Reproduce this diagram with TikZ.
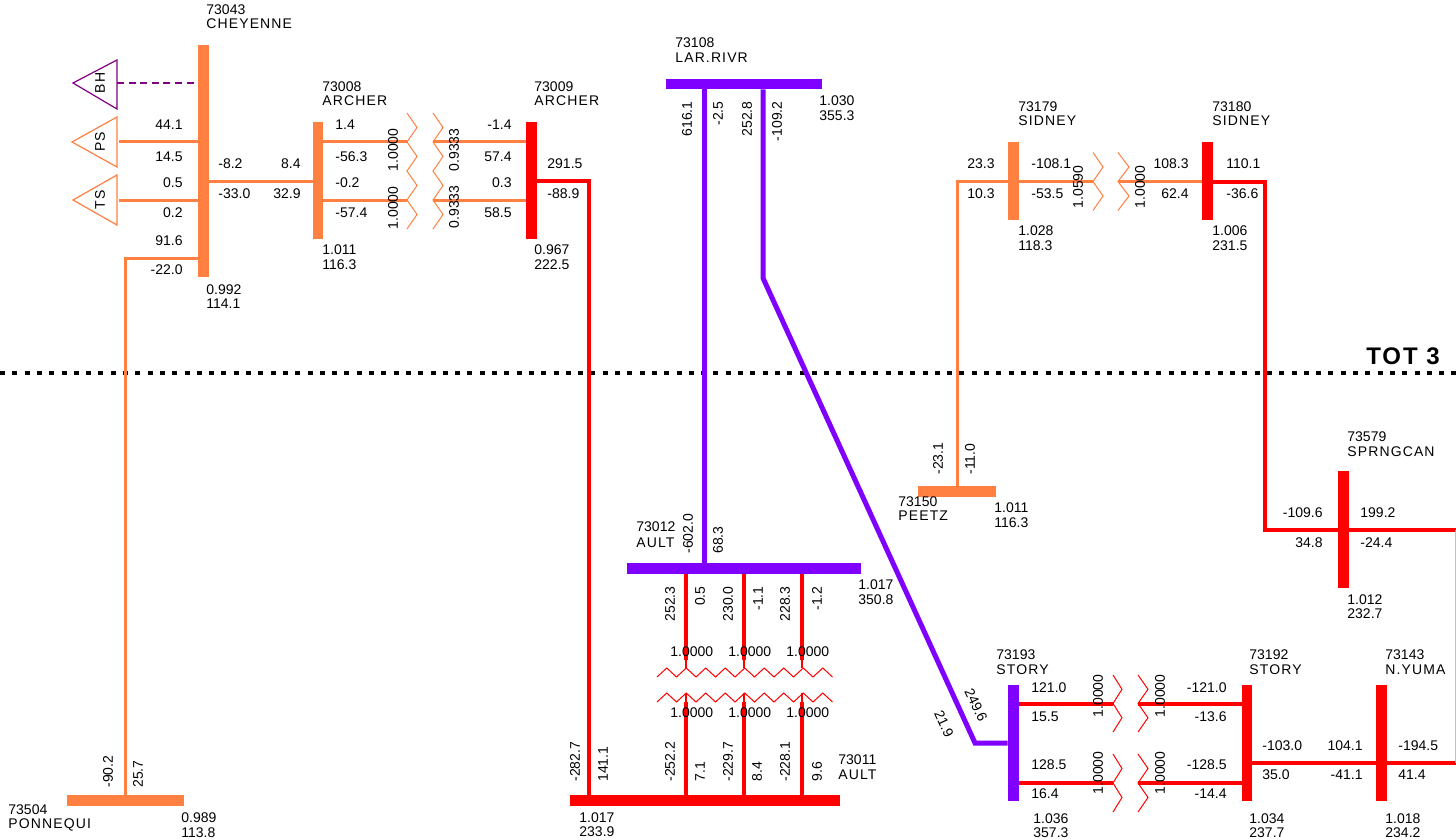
\documentclass[tikz,border=0pt]{standalone}
\usepackage{fontspec}
\setmainfont{Liberation Sans}
\usetikzlibrary{fit}
\definecolor{org}{RGB}{255,128,64}
\definecolor{rd}{RGB}{255,0,0}
\definecolor{pur}{RGB}{128,0,255}
\definecolor{bhc}{RGB}{128,0,128}
\newcommand\labfont{\fontsize{7}{8}\selectfont}
\newcommand\namefont{\fontsize{7}{8}\selectfont\addfontfeature{LetterSpace=8}}
\newcommand\vcoil[6]{\draw[#6, coil] (#1,#3) \foreach \i in {1,...,#4}{ -- ({isodd(\i)?#2:#1},{#3+\i*#5}) };}
\begin{document}
\begin{tikzpicture}[x=0.5pt,y=-0.5pt,
  every node/.style={font=\labfont, inner sep=0pt, text=black},
  L/.style={anchor=west}, R/.style={anchor=east},
  N/.style={anchor=west, font=\namefont},
  VE/.style={rotate=90, anchor=east}, VW/.style={rotate=90, anchor=west}, VC/.style={rotate=90},
  bus/.style={inner sep=0pt, draw=none},
  oline/.style={draw=org, line width=1.5pt},
  rline/.style={draw=rd, line width=2pt},
  pline/.style={draw=pur, line width=2.5pt},
  coil/.style={line width=0.5pt},
  tri/.style={line width=0.6pt}]
\useasboundingbox (0,0) rectangle (1456,840);
\fill[white] (0,0) rectangle (1456,840);

% ---- TOT 3 boundary
\draw[line width=2pt, dash pattern=on 2.5pt off 3.65pt] (0,373) -- (1456,373);
\node[R, font=\fontsize{12}{14}\selectfont\bfseries\addfontfeature{LetterSpace=8}] (tot) at (1440,356) {TOT 3};

% ---- buses
\node[bus, fill=org, fit={(198,45) (209,277)}] (chey) {};
\node[bus, fill=org, fit={(313,122) (323,239)}] (arch1) {};
\node[bus, fill=rd, fit={(526,122) (537,239)}] (arch2) {};
\node[bus, fill=pur, fit={(666,79) (822,89)}] (lar) {};
\node[bus, fill=pur, fit={(627,563) (861,574)}] (ault12) {};
\node[bus, fill=rd, fit={(570,795) (840,806)}] (ault11) {};
\node[bus, fill=org, fit={(67,795) (184,806)}] (ponn) {};
\node[bus, fill=org, fit={(918,486) (996,497)}] (peetz) {};
\node[bus, fill=org, fit={(1008,142) (1019,220)}] (sid1) {};
\node[bus, fill=rd, fit={(1202,142) (1213,220)}] (sid2) {};
\node[bus, fill=rd, fit={(1338,471) (1349,588)}] (sprng) {};
\node[bus, fill=pur, fit={(1008,685) (1019,801)}] (story1) {};
\node[bus, fill=rd, fit={(1242,685) (1252,801)}] (story2) {};
\node[bus, fill=rd, fit={(1376,685) (1387,801)}] (nyuma) {};

% ---- generators / shunts at Cheyenne
\coordinate (bhT) at (117,83);
\draw[bhc, tri] (73,83) -- (117,60) -- (117,109) -- cycle;
\node[VC, font=\namefont] (bh) at (100,83) {BH};
\draw[bhc, line width=0.6pt, dash pattern=on 3.5pt off 2.3pt] (bhT) -- (chey.west |- 0,83);
\coordinate (psT) at (119,142);
\draw[org, tri] (72,142) -- (117,117) -- (117,167) -- cycle;
\node[VC, font=\namefont] (ps) at (100,142) {PS};
\draw[oline] (psT) -- (chey.west |- 0,142);
\coordinate (tsT) at (119,200);
\draw[org, tri] (73,200) -- (117,175) -- (117,225) -- cycle;
\node[VC, font=\namefont] (ts) at (100,200) {TS};
\draw[oline] (tsT) -- (chey.west |- 0,200);

% ---- Cheyenne lines
\draw[oline] (chey.west |- 0,258) -- (125.5,258) -- (ponn.north);
\draw[oline] (chey.east |- 0,181) -- (arch1.west |- 0,181);

% ---- Archer transformers
\draw[oline] (arch1.east |- 0,142) -- (407,142);
\draw[oline] (arch1.east |- 0,200) -- (407,200);
\vcoil{407}{417}{113}{8}{14.5}{org}
\vcoil{433}{443}{113}{8}{14.5}{org}
\draw[oline] (433,142) -- (arch2.west |- 0,142);
\draw[oline] (433,200) -- (arch2.west |- 0,200);

% ---- Archer 230 to Ault
\draw[rline] (arch2.east |- 0,181) -- (589,181) -- (ault11.north -| 589,0);

% ---- Laramie River
\draw[pline] (lar.south -| 704,0) -- (ault12.north -| 704,0);
\coordinate (bend) at (763,278);
\coordinate (sbend) at (975,743);
\draw[pline] (lar.south -| 763,0) -- (bend) -- (sbend) -- (story1.west |- 0,743);

% ---- Ault transformers
\foreach \x in {686,744,802}{
  \draw[rline] (ault12.south -| \x,0) -- (\x,660);
  \draw[rd, line width=0.6pt] (\x,660) -- (\x,668);
  \draw[rline] (ault11.north -| \x,0) -- (\x,702);
  \draw[rd, line width=0.6pt] (\x,702) -- (\x,693);
}
\draw[rd, coil] (657,677) \foreach \i in {1,...,18}{ -- ({657+9.75*\i},{isodd(\i)?668:677}) };
\draw[rd, coil] (657,702) \foreach \i in {1,...,18}{ -- ({657+9.75*\i},{isodd(\i)?693:702}) };

% ---- Sidney / Peetz
\draw[oline] (peetz.north -| 957,0) -- (957,181.5) -- (sid1.west |- 0,181.5);
\draw[oline] (sid1.east |- 0,181.5) -- (1093,181.5);
\vcoil{1093}{1103}{152.5}{4}{14.5}{org}
\vcoil{1118}{1129}{152.5}{4}{14.5}{org}
\draw[oline] (1118,181.5) -- (sid2.west |- 0,181.5);
\draw[rline] (sid2.east |- 0,181.5) -- (1265,181.5) -- (1265,530) -- (sprng.west |- 0,530);
\coordinate (eastA) at (1456,530);
\draw[rline] (sprng.east |- 0,530) -- (eastA);

% ---- Story
\draw[rline] (story1.east |- 0,703.5) -- (1113,703.5);
\draw[rline] (story1.east |- 0,783) -- (1113,783);
\vcoil{1113}{1122}{675}{4}{14.25}{rd}
\vcoil{1138}{1148}{675}{4}{14.25}{rd}
\vcoil{1113}{1122}{754}{4}{14.5}{rd}
\vcoil{1138}{1148}{754}{4}{14.5}{rd}
\draw[rline] (1138,703.5) -- (story2.west |- 0,703.5);
\draw[rline] (1138,783) -- (story2.west |- 0,783);
\draw[rline] (story2.east |- 0,763) -- (nyuma.west |- 0,763);
\coordinate (eastB) at (1456,763);
\draw[rline] (nyuma.east |- 0,763) -- (eastB);
\draw[rd!35, line width=0.5pt] (1455,530) -- (1455,763);

% ---- labels: Cheyenne
\node[L] at (206,10) {73043};
\node[N] at (206,24) {CHEYENNE};
\node[R] at (183,125) {44.1};
\node[R] at (183,157) {14.5};
\node[R] at (183,183) {0.5};
\node[R] at (183,213) {0.2};
\node[R] at (183,241) {91.6};
\node[R] at (183,270) {-22.0};
\node[L] at (206,290) {0.992};
\node[L] at (206,304) {114.1};
\node[L] at (218,164) {-8.2};
\node[L] at (218,194) {-33.0};
\node[R] at (301,164) {8.4};
\node[R] at (301,194) {32.9};

% ---- Archer
\node[L] at (322,87) {73008};
\node[N] at (322,101) {ARCHER};
\node[L] at (335,125) {1.4};
\node[L] at (335,157) {-56.3};
\node[L] at (335,183) {-0.2};
\node[L] at (335,213) {-57.4};
\node[L] at (322,250) {1.011};
\node[L] at (322,265) {116.3};
\node[VC] at (393,150) {1.0000};
\node[VC] at (393,208) {1.0000};
\node[VC] at (454,150) {0.9333};
\node[VC] at (454,207) {0.9333};
\node[R] at (512,125) {-1.4};
\node[R] at (512,157) {57.4};
\node[R] at (512,183) {0.3};
\node[R] at (512,213) {58.5};
\node[L] at (534,87) {73009};
\node[N] at (534,101) {ARCHER};
\node[L] at (547,164) {291.5};
\node[L] at (547,194) {-88.9};
\node[L] at (534,250) {0.967};
\node[L] at (534,265) {222.5};

% ---- Laramie River
\node[L] at (675,43) {73108};
\node[N] at (675,58) {LAR.RIVR};
\node[L] at (819,101) {1.030};
\node[L] at (819,116) {355.3};
\node[VE] at (687,101) {616.1};
\node[VE] at (718,101) {-2.5};
\node[VE] at (747,101) {252.8};
\node[VE] at (777,101) {-109.2};

% ---- Ault 345
\node[L] at (636,527) {73012};
\node[N] at (636,543) {AULT};
\node[VW] at (688,554) {-602.0};
\node[VW] at (718,554) {68.3};
\node[L] at (858,585) {1.017};
\node[L] at (858,600) {350.8};
\node[VE] at (670,586) {252.3};
\node[VE] at (700,586) {0.5};
\node[VE] at (728,586) {230.0};
\node[VE] at (758,586) {-1.1};
\node[VE] at (785,586) {228.3};
\node[VE] at (817,586) {-1.2};
\foreach \x in {670,728,786}{
  \node[L] at (\x,652) {1.0000};
  \node[L] at (\x,713) {1.0000};
}
% ---- Ault 230
\node[VW] at (670,782) {-252.2};
\node[VW] at (700,782) {7.1};
\node[VW] at (728,782) {-229.7};
\node[VW] at (757,782) {8.4};
\node[VW] at (785,782) {-228.1};
\node[VW] at (817,782) {9.6};
\node[VW] at (575,782) {-282.7};
\node[VW] at (603,782) {141.1};
\node[L] at (838,760) {73011};
\node[N] at (838,775) {AULT};
\node[L] at (579,818) {1.017};
\node[L] at (579,832) {233.9};

% ---- Ponnequin
\node[L] at (8,810) {73504};
\node[N] at (8,825) {PONNEQUI};
\node[L] at (181,818) {0.989};
\node[L] at (181,833) {113.8};
\node[VW] at (108,788) {-90.2};
\node[VW] at (138,788) {25.7};

% ---- Peetz
\node[L] at (898,502) {73150};
\node[N] at (898,516) {PEETZ};
\node[L] at (994,508) {1.011};
\node[L] at (994,523) {116.3};
\node[VW] at (938,475) {-23.1};
\node[VW] at (970,475) {-11.0};

% ---- Sidney
\node[L] at (1018,107) {73179};
\node[N] at (1018,121) {SIDNEY};
\node[R] at (995,164) {23.3};
\node[R] at (995,194) {10.3};
\node[L] at (1031,164) {-108.1};
\node[L] at (1031,194) {-53.5};
\node[L] at (1018,231) {1.028};
\node[L] at (1018,246) {118.3};
\node[VC] at (1078,187) {1.0590};
\node[VC] at (1140,187) {1.0000};
\node[L] at (1212,107) {73180};
\node[N] at (1212,121) {SIDNEY};
\node[R] at (1189,164) {108.3};
\node[R] at (1189,194) {62.4};
\node[L] at (1226,164) {110.1};
\node[L] at (1226,194) {-36.6};
\node[L] at (1212,231) {1.006};
\node[L] at (1212,246) {231.5};

% ---- Spring Canyon
\node[L] at (1347,437) {73579};
\node[N] at (1347,452) {SPRNGCAN};
\node[R] at (1323,513) {-109.6};
\node[R] at (1323,543) {34.8};
\node[L] at (1360,513) {199.2};
\node[L] at (1360,543) {-24.4};
\node[L] at (1347,600) {1.012};
\node[L] at (1347,614) {232.7};

% ---- Story 345
\node[L] at (996,655) {73193};
\node[N] at (996,670) {STORY};
\node[L] at (1031,688) {121.0};
\node[L] at (1031,717) {15.5};
\node[L] at (1031,765) {128.5};
\node[L] at (1031,794) {16.4};
\node[L] at (1033,819) {1.036};
\node[L] at (1033,833) {357.3};
\node[VC] at (1098,696) {1.0000};
\node[VC] at (1160,696) {1.0000};
\node[VC] at (1098,773) {1.0000};
\node[VC] at (1160,773) {1.0000};
\node[rotate=-65] at (976,705) {249.6};
\node[rotate=-65] at (944,724) {21.9};

% ---- Story 230 / N. Yuma
\node[R] at (1227,688) {-121.0};
\node[R] at (1227,717) {-13.6};
\node[R] at (1227,765) {-128.5};
\node[R] at (1227,794) {-14.4};
\node[L] at (1249,655) {73192};
\node[N] at (1249,670) {STORY};
\node[L] at (1249,819) {1.034};
\node[L] at (1249,833) {237.7};
\node[L] at (1262,746) {-103.0};
\node[L] at (1262,775) {35.0};
\node[R] at (1363,746) {104.1};
\node[R] at (1363,775) {-41.1};
\node[L] at (1385,655) {73143};
\node[N] at (1385,670) {N.YUMA};
\node[L] at (1398,746) {-194.5};
\node[L] at (1398,775) {41.4};
\node[L] at (1385,819) {1.018};
\node[L] at (1385,833) {234.2};
\end{tikzpicture}
\end{document}
